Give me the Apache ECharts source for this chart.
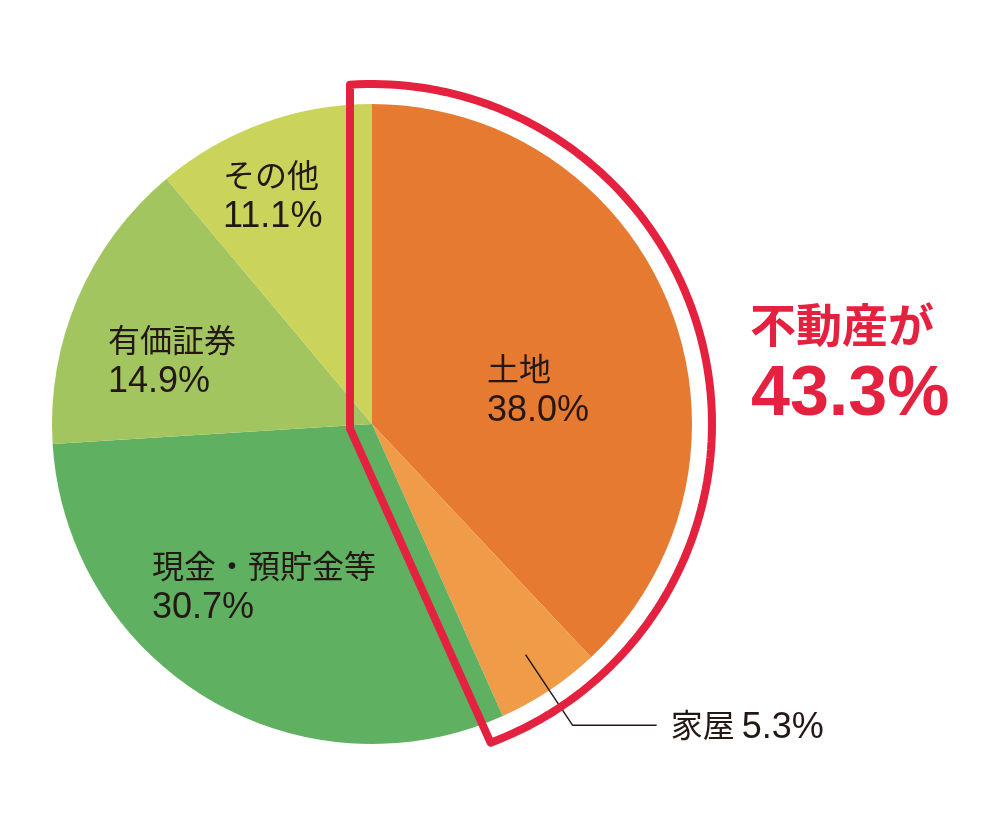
<!DOCTYPE html>
<html><head><meta charset="utf-8">
<script src="https://cdn.jsdelivr.net/npm/echarts@6/dist/echarts.min.js"></script>
<style>html,body{margin:0;padding:0;background:#fff}#c{width:989px;height:814px}</style>
</head><body><div id="c"></div>
<script>
// ---- data ----
const categories = ['土地', '家屋', '現金・預貯金等', '有価証券', 'その他'];
const values = [38.0, 5.3, 30.7, 14.9, 11.1];
const highlightCount = 2; // 土地 + 家屋 = 不動産
const highlightTitle = '不動産が';

// ---- styles / layout ----
const colors = ['#E77A31', '#F09B47', '#5FB161', '#A3C55F', '#CAD35A'];
const RED = '#E4223F';
const TXT = '#231815';
const FONT = '"Noto Sans CJK JP", "Noto Sans", sans-serif';
const NUMFONT = '"Liberation Sans", Arial, sans-serif';
const CX = 372, CY = 424, R = 320;
// left / vertical-middle anchors for inside labels
const labelAnchors = { 0: [487, 390], 2: [152, 587], 3: [108, 361], 4: [223, 196] };

const total = values.reduce((a, b) => a + b, 0);
const hlSum = values.slice(0, highlightCount).reduce((a, b) => a + b, 0);

const chart = echarts.init(document.getElementById('c'), null, { renderer: 'canvas' });

// outline around the highlighted sector (offset outward)
function outlinePoints() {
  const d = 22, Ro = 340;
  const t0 = 0, t1 = hlSum / total * Math.PI * 2;
  const u = t => [Math.sin(t), -Math.cos(t)];
  const n1 = [-Math.cos(t0), -Math.sin(t0)];
  const n2 = [Math.cos(t1), Math.sin(t1)];
  const det = n1[0] * n2[1] - n1[1] * n2[0];
  const px = (d * n2[1] - n1[1] * d) / det;
  const py = (n1[0] * d - d * n2[0]) / det;
  const pts = [[CX + px, CY + py]];
  const a = Math.asin(d / Ro);
  const N = 120;
  for (let i = 0; i <= N; i++) {
    const t = (t0 - a) + (t1 + a - (t0 - a)) * i / N;
    const v = u(t);
    pts.push([CX + Ro * v[0], CY + Ro * v[1]]);
  }
  return pts;
}

const mainData = categories.map((name, i) => ({
  name, value: values[i],
  itemStyle: { color: colors[i] },
  label: i === 1 ? { show: false } : { show: true }
}));

const helperData = categories.map((name, i) => ({
  name, value: values[i],
  label: { show: i === 1 },
  labelLine: { show: i === 1 }
}));

chart.setOption({
  animation: false,
  title: [
    { text: highlightTitle, left: 750, top: 302, padding: 0,
      textStyle: { fontFamily: FONT, fontSize: 46, fontWeight: 'bold', color: RED } },
    { text: hlSum.toFixed(1) + '%', left: 751, top: 361, padding: 0,
      textStyle: { fontFamily: NUMFONT, fontSize: 70, fontWeight: 'bold', color: RED } }
  ],
  series: [
    {
      type: 'pie', center: [CX, CY], radius: R, startAngle: 90, clockwise: true,
      avoidLabelOverlap: false, silent: true, z: 1,
      itemStyle: { borderWidth: 0 },
      label: {
        position: 'inside',
        formatter: p => '{t|' + p.name + '}\n{n|' + p.value.toFixed(1) + '%}',
        rich: {
          t: { fontFamily: FONT, fontSize: 32, color: TXT, lineHeight: 42, align: 'left' },
          n: { fontFamily: NUMFONT, fontSize: 36, color: TXT, lineHeight: 42, align: 'left' }
        }
      },
      labelLine: { show: false },
      labelLayout: p => {
        const a = labelAnchors[p.dataIndex];
        if (!a) return {};
        return { x: a[0], y: a[1], align: 'left', verticalAlign: 'middle' };
      },
      data: mainData
    },
    {
      type: 'pie', center: [CX, CY], radius: 277, startAngle: 90, clockwise: true,
      avoidLabelOverlap: false, silent: true, z: 3,
      itemStyle: { color: 'rgba(0,0,0,0)', borderWidth: 0 },
      label: {
        position: 'outside', distanceToLabelLine: 14,
        formatter: p => '{t|' + p.name + ' }{n|' + p.value.toFixed(1) + '%}',
        rich: {
          t: { fontFamily: FONT, fontSize: 32, color: TXT },
          n: { fontFamily: NUMFONT, fontSize: 36, color: TXT, padding: [5, 0, 0, 0] }
        }
      },
      labelLine: { length: 85, length2: 84, lineStyle: { color: TXT, width: 1.5 } },
      data: helperData
    }
  ],
  graphic: [{
    type: 'polygon', z: 10, silent: true,
    shape: { points: outlinePoints() },
    style: { fill: null, stroke: RED, lineWidth: 8, lineJoin: 'round' }
  }]
});
</script></body></html>
